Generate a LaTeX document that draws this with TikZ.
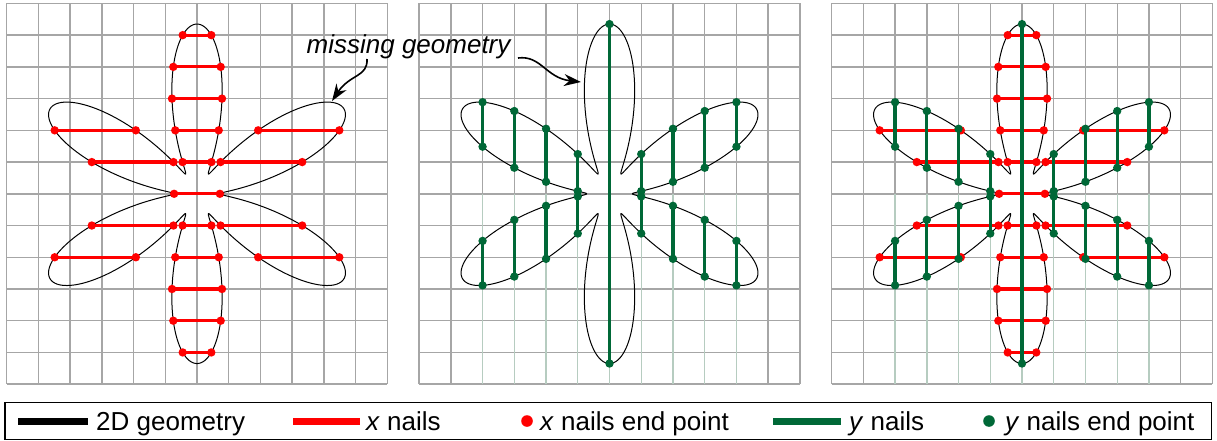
\documentclass[tikz,border=0pt]{standalone}
\usepackage{fontspec}
\setmainfont{Liberation Sans}
\usetikzlibrary{intersections,arrows.meta}
\definecolor{nailred}{RGB}{255,0,0}
\definecolor{nailgreen}{RGB}{0,104,55}
\definecolor{gridgray}{RGB}{166,166,166}
\definecolor{gridgreen}{RGB}{182,204,192}
\tikzset{
  declare function={fr(\t)=0.72+4.63*sin(3*\t)*sin(3*\t);},
  gridline/.style={draw=gridgray, line width=1.4pt},
  gridtint/.style={draw=gridgreen, line width=1.4pt},
  flower/.style={draw=black, line width=1pt, line join=round},
  xnail/.style={draw=nailred, line width=3.2pt},
  ynail/.style={draw=nailgreen, line width=3.3pt},
  xdot/.style={fill=nailred},
  ydot/.style={fill=nailgreen},
  note/.style={font=\fontsize{26}{31}\selectfont\itshape, inner sep=0pt},
  lgtext/.style={font=\fontsize{26}{31}\selectfont, inner sep=0pt, anchor=base west},
  lgbar/.style={line width=7pt},
  pointer/.style={draw=black, line width=1.6pt, -{Stealth[length=17pt,width=12pt]}},
}
\newcommand\gridlines{%
  \foreach \i in {-6,...,6}{\draw[gridline] (\i,-6) -- (\i,6); \draw[gridline] (-6,\i) -- (6,\i);}%
}
\newcommand\gridtintlines{%
  \foreach \i in {-4,...,4}{\draw[gridtint] (\i,-6) -- (\i,0);}%
}
\newcommand\xnails{%
  \foreach \j in {-5,...,5}{%
    \path[name path=hl] (-6.5,\j) -- (6.5,\j);
    \path[name intersections={of=fl and hl, total=\tot, sort by=hl}] \pgfextra{\xdef\ntot{\tot}};
    \pgfmathtruncatemacro\npairs{\ntot/2}%
    \ifnum\npairs>0\relax
      \foreach \k in {1,...,\npairs}{%
        \pgfmathtruncatemacro\ka{2*\k-1}%
        \pgfmathtruncatemacro\kb{2*\k}%
        \draw[xnail] (intersection-\ka) -- (intersection-\kb);
        \fill[xdot] (intersection-\ka) circle[radius=4.2pt] (intersection-\kb) circle[radius=4.2pt];
      }%
    \fi
  }%
}
\newcommand\ynails{%
  \foreach \j in {-4,...,4}{%
    \path[name path=vl] (\j,-6.5) -- (\j,6.5);
    \path[name intersections={of=fl and vl, total=\tot, sort by=vl}] \pgfextra{\xdef\ntot{\tot}};
    \pgfmathtruncatemacro\npairs{\ntot/2}%
    \ifnum\npairs>0\relax
      \foreach \k in {1,...,\npairs}{%
        \pgfmathtruncatemacro\ka{2*\k-1}%
        \pgfmathtruncatemacro\kb{2*\k}%
        \draw[ynail] (intersection-\ka) -- (intersection-\kb);
        \fill[ydot] (intersection-\ka) circle[radius=4.2pt] (intersection-\kb) circle[radius=4.2pt];
      }%
    \fi
  }%
}
\begin{document}
\begin{tikzpicture}[x=1pt, y=-1pt]
\useasboundingbox (0,0) rectangle (1217,441);

% ---------- panel 1: x nails
\begin{scope}[shift={(197,193.8)}, x=31.73pt, y=31.73pt]
  \gridlines
  \draw[flower, name path=fl] plot[domain=0.25:360.25, samples=721, variable=\t] ({fr(\t)*cos(\t)}, {fr(\t)*sin(\t)});
  \xnails
\end{scope}

% ---------- panel 2: y nails
\begin{scope}[shift={(609.5,193.8)}, x=31.73pt, y=31.73pt]
  \gridlines
  \gridtintlines
  \draw[flower, name path=fl] plot[domain=0.25:360.25, samples=721, variable=\t] ({fr(\t)*cos(\t)}, {fr(\t)*sin(\t)});
  \ynails
\end{scope}

% ---------- panel 3: both
\begin{scope}[shift={(1022,193.8)}, x=31.73pt, y=31.73pt]
  \gridlines
  \gridtintlines
  \draw[flower, name path=fl] plot[domain=0.25:360.25, samples=721, variable=\t] ({fr(\t)*cos(\t)}, {fr(\t)*sin(\t)});
  \xnails
  \ynails
\end{scope}

% ---------- annotation
\node[note, anchor=base west] (miss) at (306.5,53.3) {missing geometry};
\coordinate (a1s) at (367,59);
\coordinate (a1e) at (332,101);
\draw[pointer] (a1s) .. controls (368,77) and (350,74) .. (a1e);
\coordinate (a2s) at (518,58);
\coordinate (a2e) at (581,82);
\draw[pointer] (a2s) .. controls (541,55) and (546,78) .. (a2e);

% ---------- legend
\draw[black, line width=1.6pt] (5,402.5) rectangle (1211.5,439.5);
\draw[lgbar, black] (18,421) -- (88,421);
\node[lgtext] (l1) at (96,430) {2D geometry};
\draw[lgbar, nailred] (293,421) -- (360,421);
\node[lgtext] (l2) at (366,430) {\textit{x} nails};
\fill[nailred] (527,421) circle[radius=5.8pt];
\node[lgtext] (l3) at (540,430) {\textit{x} nails end point};
\draw[lgbar, nailgreen] (773,421) -- (841,421);
\node[lgtext] (l4) at (849,430) {\textit{y} nails};
\fill[nailgreen] (989,421) circle[radius=5.8pt];
\node[lgtext] (l5) at (1005,430) {\textit{y} nails end point};
\end{tikzpicture}
\end{document}
